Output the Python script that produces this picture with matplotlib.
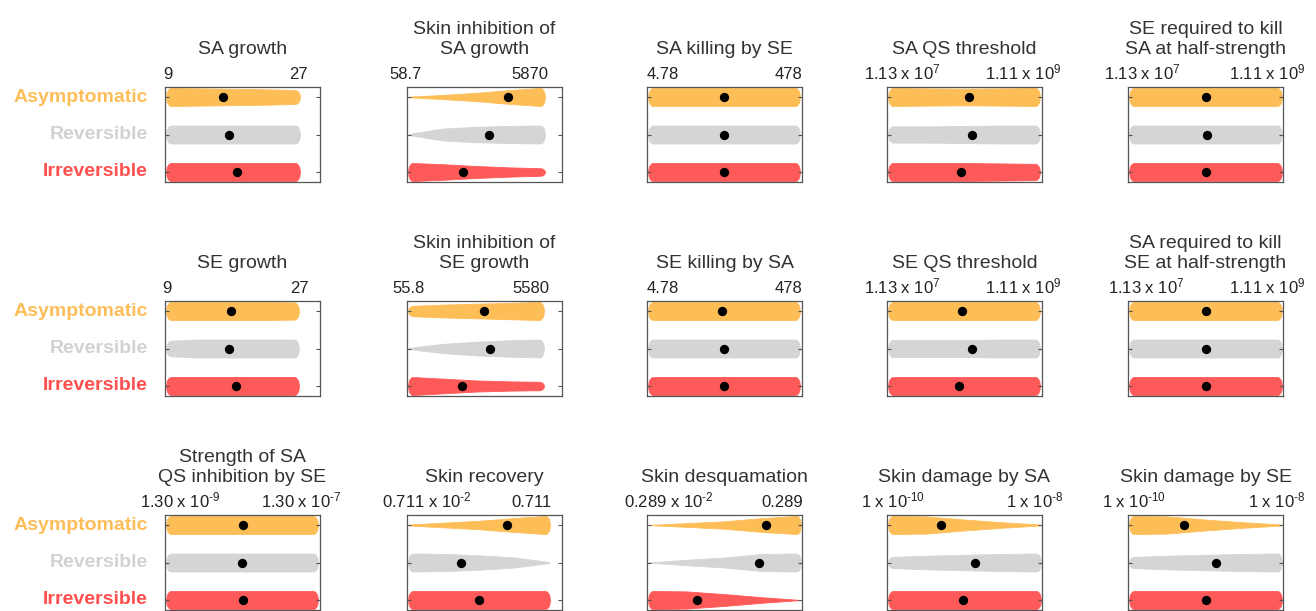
import numpy as np
import matplotlib
matplotlib.use("Agg")
import matplotlib.pyplot as plt
from matplotlib.transforms import blended_transform_factory

plt.rcParams['font.family'] = ['Liberation Sans', 'DejaVu Sans']
plt.rcParams['mathtext.fontset'] = 'custom'
plt.rcParams['mathtext.rm'] = 'Liberation Sans'
plt.rcParams['mathtext.it'] = 'Liberation Sans:italic'
plt.rcParams['mathtext.bf'] = 'Liberation Sans:bold'

# ---------------------------------------------------------------- data
groups = ["Asymptomatic", "Reversible", "Irreversible"]

titles = [
    "SA growth", "Skin inhibition of\nSA growth", "SA killing by SE",
    "SA QS threshold", "SE required to kill\nSA at half-strength",
    "SE growth", "Skin inhibition of\nSE growth", "SE killing by SA",
    "SE QS threshold", "SA required to kill\nSE at half-strength",
    "Strength of SA\nQS inhibition by SE", "Skin recovery", "Skin desquamation",
    "Skin damage by SA", "Skin damage by SE",
]

range_lo = [9, 58.7, 4.78, 1.13e7, 1.13e7,
            9, 55.8, 4.78, 1.13e7, 1.13e7,
            1.30e-9, 0.711e-2, 0.289e-2, 1e-10, 1e-10]
range_hi = [27, 5870, 478, 1.11e9, 1.11e9,
            27, 5580, 478, 1.11e9, 1.11e9,
            1.30e-7, 0.711, 0.289, 1e-8, 1e-8]

lo_labels = ["9", "58.7", "4.78",
             r"1.13 x 10$^{\text{7}}$", r"1.13 x 10$^{\text{7}}$",
             "9", "55.8", "4.78",
             r"1.13 x 10$^{\text{7}}$", r"1.13 x 10$^{\text{7}}$",
             r"1.30 x 10$^{\text{-9}}$", r"0.711 x 10$^{\text{-2}}$",
             r"0.289 x 10$^{\text{-2}}$",
             r"1 x 10$^{\text{-10}}$", r"1 x 10$^{\text{-10}}$"]
hi_labels = ["27", "5870", "478",
             r"1.11 x 10$^{\text{9}}$", r"1.11 x 10$^{\text{9}}$",
             "27", "5580", "478",
             r"1.11 x 10$^{\text{9}}$", r"1.11 x 10$^{\text{9}}$",
             r"1.30 x 10$^{\text{-7}}$", "0.711", "0.289",
             r"1 x 10$^{\text{-8}}$", r"1 x 10$^{\text{-8}}$"]

log_axis = [False, True, True, True, True,
            False, True, True, True, True,
            True, True, True, True, True]

# posterior medians per parameter
median_asym = [16.7, 1690, 48.5, 1.30e8, 1.15e8,
               17.8, 735, 44.6, 1.07e8, 1.15e8,
               1.34e-8, 0.1745, 0.1016, 5.0e-10, 5.25e-10]
median_rev = [17.5, 890, 47.8, 1.43e8, 1.17e8,
              17.5, 884, 47.8, 1.41e8, 1.15e8,
              1.30e-8, 0.0391, 0.0822, 1.38e-9, 1.38e-9]
median_irrev = [18.5, 370, 47.8, 1.02e8, 1.15e8,
                18.5, 352, 47.8, 9.76e7, 1.15e8,
                1.34e-8, 0.0711, 0.0125, 9.55e-10, 1.0e-9]

# relative density at 0, 25, 50, 75, 100 % of each parameter range
density_asym = [
    [1.00, 0.95, 0.90, 0.85, 0.75],
    [0.03, 0.22, 0.45, 0.75, 1.00],
    [1.00, 1.00, 1.00, 1.00, 1.00],
    [1.00, 0.95, 0.92, 0.95, 1.00],
    [1.00, 1.00, 1.00, 1.00, 1.00],
    [1.00, 1.00, 1.00, 1.00, 0.95],
    [0.55, 0.70, 0.80, 0.90, 1.00],
    [1.00, 1.00, 1.00, 1.00, 1.00],
    [1.00, 1.00, 1.00, 1.00, 1.00],
    [1.00, 1.00, 1.00, 1.00, 1.00],
    [1.00, 1.00, 1.00, 1.00, 1.00],
    [0.05, 0.25, 0.45, 0.75, 1.00],
    [0.00, 0.20, 0.40, 0.75, 1.00],
    [1.00, 0.95, 0.60, 0.30, 0.05],
    [1.00, 0.95, 0.60, 0.30, 0.05],
]
density_rev = [
    [0.90, 0.90, 0.90, 0.90, 0.90],
    [0.05, 0.65, 0.85, 0.95, 1.00],
    [1.00, 1.00, 1.00, 1.00, 1.00],
    [0.90, 0.90, 0.95, 1.00, 1.00],
    [1.00, 1.00, 1.00, 1.00, 1.00],
    [0.80, 0.95, 0.95, 0.95, 0.95],
    [0.05, 0.50, 0.75, 0.90, 1.00],
    [1.00, 1.00, 1.00, 1.00, 1.00],
    [0.90, 0.90, 0.90, 0.95, 0.95],
    [1.00, 1.00, 1.00, 1.00, 1.00],
    [1.00, 1.00, 1.00, 1.00, 1.00],
    [1.00, 0.95, 0.80, 0.55, 0.05],
    [0.00, 0.30, 0.55, 0.95, 1.00],
    [0.60, 0.75, 0.85, 0.95, 1.00],
    [0.60, 0.75, 0.85, 0.95, 1.00],
]
density_irrev = [
    [1.00, 1.00, 1.00, 1.00, 1.00],
    [1.00, 0.85, 0.65, 0.50, 0.40],
    [1.00, 1.00, 1.00, 1.00, 1.00],
    [1.00, 1.00, 1.00, 0.95, 0.90],
    [1.00, 1.00, 1.00, 1.00, 1.00],
    [1.00, 1.00, 1.00, 1.00, 1.00],
    [1.00, 0.80, 0.60, 0.50, 0.45],
    [1.00, 1.00, 1.00, 1.00, 1.00],
    [1.00, 1.00, 1.00, 1.00, 1.00],
    [1.00, 1.00, 1.00, 1.00, 1.00],
    [1.00, 1.00, 1.00, 1.00, 1.00],
    [1.00, 1.00, 1.00, 1.00, 1.00],
    [1.00, 0.95, 0.65, 0.30, 0.00],
    [1.00, 1.00, 1.00, 1.00, 1.00],
    [1.00, 1.00, 1.00, 1.00, 1.00],
]

# ---------------------------------------------------------------- style / layout
group_colors = ["#FDBE58", "#D5D5D5", "#FF5A5A"]
label_colors = ["#FDBE58", "#D2D2D2", "#FF5050"]
W, H = 1316, 611
col_left_px = [165, 407, 647, 887, 1128]
row_top_px = [87, 301, 515]
box_w_px, box_h_px = 155, 95
left_pad_px = 1.0
right_pad_px = [20, 17, 2, 2, 1,
                21, 18, 2, 2, 1,
                2, 12, 1, 1, 1]
lab_lo_x = [0.02, -0.01, 0.10, 0.10, 0.09,
            0.01, 0.01, 0.10, 0.10, 0.12,
            0.10, 0.13, 0.14, 0.04, 0.04]
lab_hi_x = [0.86, 0.79, 0.91, 0.88, 0.90,
            0.865, 0.80, 0.91, 0.88, 0.90,
            0.88, 0.80, 0.875, 0.95, 0.96]
cap_px = 5.0
knots = np.linspace(0, 1, 5)
fine = np.linspace(0, 1, 200)

fig = plt.figure(figsize=(W / 100, H / 100), dpi=100)

for i in range(15):
    r, c = divmod(i, 5)
    left = col_left_px[c] / W
    bottom = 1 - (row_top_px[r] + box_h_px) / H
    ax = fig.add_axes([left, bottom, box_w_px / W, box_h_px / H])

    lo, hi = range_lo[i], range_hi[i]
    data_px = box_w_px - left_pad_px - right_pad_px[i]
    lm = left_pad_px / data_px
    rm = right_pad_px[i] / data_px
    if log_axis[i]:
        ax.set_xscale('log')
        coords = lo * (hi / lo) ** fine
        xlim = (lo / (hi / lo) ** lm, hi * (hi / lo) ** rm)
    else:
        coords = lo + (hi - lo) * fine
        xlim = (lo - (hi - lo) * lm, hi + (hi - lo) * rm)

    # rounded caps at both ends of each body
    d = np.minimum(fine, 1 - fine) * data_px / cap_px
    cap = np.sqrt(1 - (1 - np.minimum(d, 1)) ** 2)

    meds = [median_asym[i], median_rev[i], median_irrev[i]]
    dens = [density_asym[i], density_rev[i], density_irrev[i]]
    stats = []
    for g in range(3):
        vals = np.interp(fine, knots, dens[g]) * cap + 1e-6
        stats.append(dict(coords=coords, vals=vals, mean=meds[g],
                          median=meds[g], min=lo, max=hi))
    kw = dict(positions=[0, 1, 2], widths=0.48, showmeans=False,
              showextrema=False, showmedians=False)
    try:
        parts = ax.violin(stats, orientation='horizontal', **kw)
    except TypeError:
        parts = ax.violin(stats, vert=False, **kw)
    for body, col in zip(parts['bodies'], group_colors):
        body.set_facecolor(col)
        body.set_edgecolor(col)
        body.set_linewidth(0.6)
        body.set_alpha(1)

    ax.scatter(meds, [0, 1, 2], s=45, c='black', zorder=3, linewidths=0)

    ax.set_xlim(*xlim)
    ax.set_ylim(2 + 10 / 37.5, -10 / 37.5)
    ax.set_yticks([0, 1, 2])
    ax.tick_params(axis='y', direction='in', left=True, right=True,
                   labelleft=False, length=3, width=0.8, color='#555555')
    ax.tick_params(axis='x', which='both', bottom=False, top=False,
                   labelbottom=False)
    for sp in ax.spines.values():
        sp.set_color('#555555')
        sp.set_linewidth(0.9)

    ax.annotate(titles[i], xy=(0.5, 1), xycoords='axes fraction',
                xytext=(0, 21), textcoords='offset points',
                ha='center', va='bottom', fontsize=14, color='#333333')
    ax.annotate(lo_labels[i], xy=(lab_lo_x[i], 1), xycoords='axes fraction',
                xytext=(0, 3.5), textcoords='offset points',
                ha='center', va='bottom', fontsize=12, color='#222222')
    ax.annotate(hi_labels[i], xy=(lab_hi_x[i], 1), xycoords='axes fraction',
                xytext=(0, 3.5), textcoords='offset points',
                ha='center', va='bottom', fontsize=12, color='#222222')

    if c == 0:
        tr = blended_transform_factory(ax.transAxes, ax.transData)
        for g in range(3):
            ax.text(-0.11, g, groups[g], transform=tr, ha='right',
                    va='center', fontsize=14, fontweight='bold',
                    color=label_colors[g])

fig.savefig("out.png", dpi=100)
